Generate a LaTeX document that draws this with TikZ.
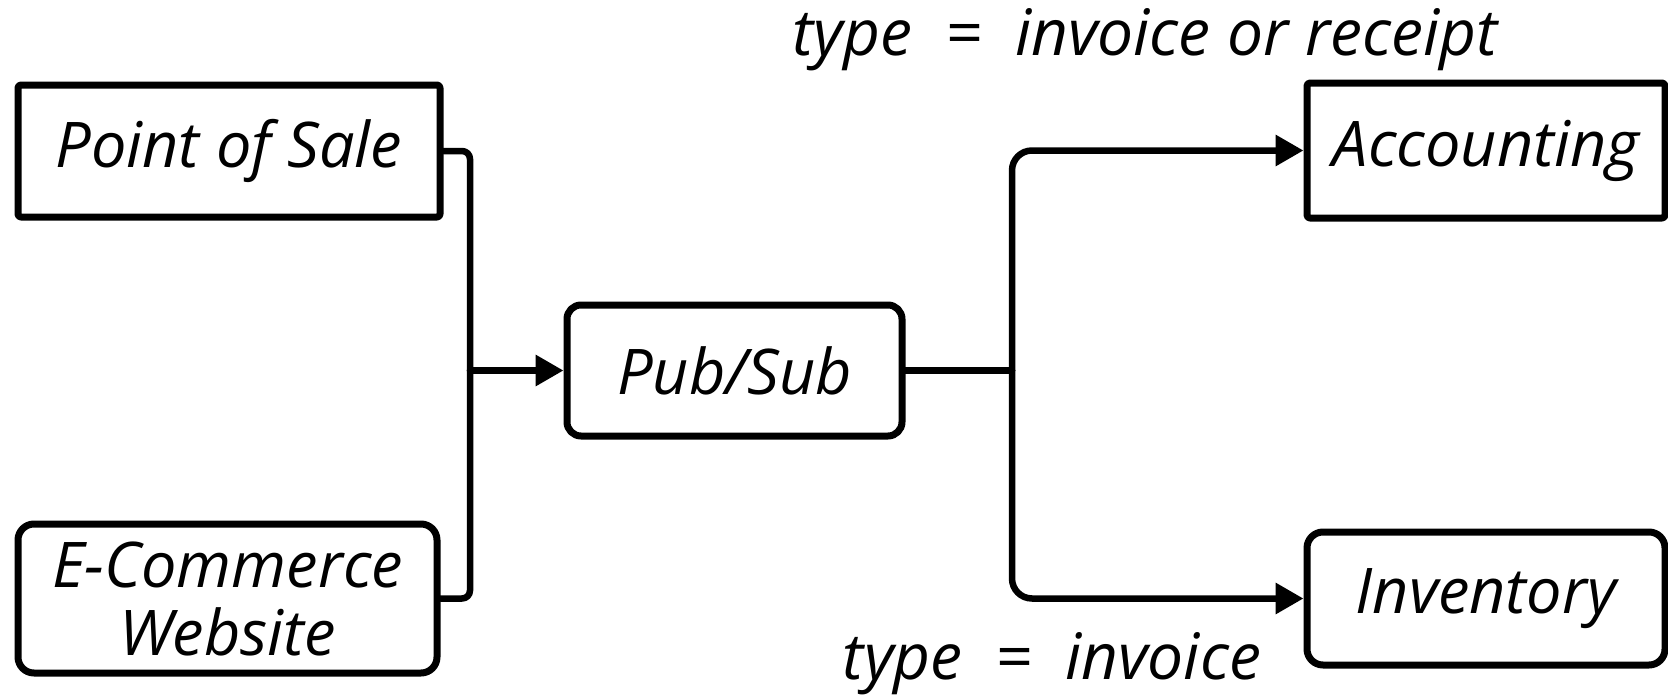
\documentclass[tikz,border=0pt]{standalone}
\usepackage{fontspec}
\setmainfont{Open Sans}
\usetikzlibrary{arrows.meta}
\tikzset{
  box/.style={draw=black, line width=7pt, fill=white, align=center, inner sep=0pt,
    font=\fontsize{63}{68}\selectfont\itshape, line join=round},
  lbl/.style={font=\fontsize{64}{70}\selectfont\itshape, inner sep=0pt},
  conn/.style={draw=black, line width=6.5pt, line cap=round, line join=round},
  arr/.style={conn, -{Triangle[length=28pt,width=30pt]}}
}
\begin{document}
\begin{tikzpicture}[x=1pt,y=-1pt]
\useasboundingbox (0,0) rectangle (1668,699);
\clip (0,0) rectangle (1668,699);
\fill[white] (0,0) rectangle (1668,699);
% nodes
\node[box, rounded corners=3pt, minimum width=422pt, minimum height=132pt] (pos) at (229,151) {Point of Sale};
\node[box, rounded corners=16pt, minimum width=419pt, minimum height=149pt] (ec) at (227.5,598.5) {E-Commerce\\Website};
\node[box, rounded corners=14pt, minimum width=335pt, minimum height=131pt] (ps) at (734.5,370.5) {Pub/Sub};
\node[box, rounded corners=3pt, minimum width=358pt, minimum height=135pt] (acc) at (1486,150.5) {Accounting};
\node[box, rounded corners=16pt, minimum width=358pt, minimum height=133pt] (inv) at (1486,598.5) {Inventory};
% labels
\node[lbl] (l1) at (1145,40) {type\ \ =\ \ invoice\ or\ receipt};
\node[lbl] (l2) at (1052,664) {type\ \ =\ \ invoice};
% junctions
\coordinate (j1) at (470,370.5);
\coordinate (j2) at (1012,370.5);
% connectors
\draw[conn, rounded corners=8pt] (pos.east) -| (j1);
\draw[conn, rounded corners=8pt] (ec.east) -| (j1);
\draw[arr] (j1) -- (ps.west);
\draw[conn] (ps.east) -- (j2);
\draw[arr, rounded corners=20pt] (j2) |- (acc.west);
\draw[arr, rounded corners=20pt] (j2) |- (inv.west);
\end{tikzpicture}
\end{document}
